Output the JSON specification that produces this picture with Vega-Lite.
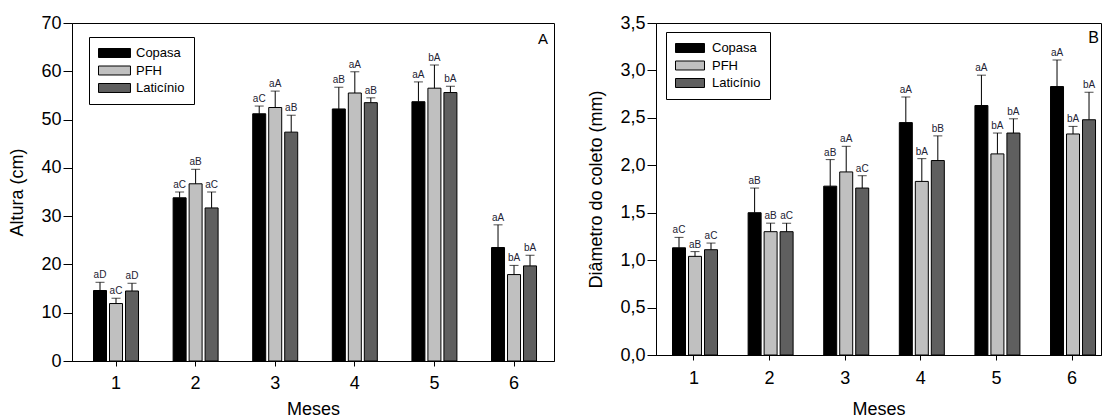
{
  "$schema": "https://vega.github.io/schema/vega-lite/v6.json",
  "padding": {"left": 8, "top": 13, "right": 0, "bottom": 0},
  "spacing": 102,
  "bounds": "flush",
  "background": "white",
  "resolve": {"scale": {"fill": "independent"}, "legend": {"fill": "independent"}},
  "config": {
    "view": {"stroke": "black", "strokeWidth": 1},
    "font": "Liberation Sans",
    "axis": {
      "grid": false,
      "domainColor": "black",
      "tickColor": "black",
      "labelColor": "black",
      "titleColor": "black",
      "labelFont": "Liberation Sans",
      "titleFont": "Liberation Sans",
      "labelFontSize": 18,
      "titleFontSize": 18,
      "titleFontWeight": "normal"
    }
  },
  "datasets": {
    "altura": [
      {"mes": "1", "trat": "Copasa", "valor": 14.6, "erro": 16.3, "letra": "aD"},
      {"mes": "1", "trat": "PFH", "valor": 11.9, "erro": 13.0, "letra": "aC"},
      {"mes": "1", "trat": "Laticínio", "valor": 14.5, "erro": 16.1, "letra": "aD"},
      {"mes": "2", "trat": "Copasa", "valor": 33.8, "erro": 35.0, "letra": "aC"},
      {"mes": "2", "trat": "PFH", "valor": 36.7, "erro": 39.7, "letra": "aB"},
      {"mes": "2", "trat": "Laticínio", "valor": 31.7, "erro": 35.0, "letra": "aC"},
      {"mes": "3", "trat": "Copasa", "valor": 51.2, "erro": 52.8, "letra": "aC"},
      {"mes": "3", "trat": "PFH", "valor": 52.5, "erro": 55.9, "letra": "aA"},
      {"mes": "3", "trat": "Laticínio", "valor": 47.4, "erro": 50.9, "letra": "aB"},
      {"mes": "4", "trat": "Copasa", "valor": 52.2, "erro": 56.7, "letra": "aB"},
      {"mes": "4", "trat": "PFH", "valor": 55.5, "erro": 59.9, "letra": "aA"},
      {"mes": "4", "trat": "Laticínio", "valor": 53.5, "erro": 54.5, "letra": "aB"},
      {"mes": "5", "trat": "Copasa", "valor": 53.7, "erro": 57.8, "letra": "aA"},
      {"mes": "5", "trat": "PFH", "valor": 56.5, "erro": 61.3, "letra": "bA"},
      {"mes": "5", "trat": "Laticínio", "valor": 55.6, "erro": 56.9, "letra": "bA"},
      {"mes": "6", "trat": "Copasa", "valor": 23.5, "erro": 28.2, "letra": "aA"},
      {"mes": "6", "trat": "PFH", "valor": 17.9, "erro": 19.8, "letra": "bA"},
      {"mes": "6", "trat": "Laticínio", "valor": 19.7, "erro": 21.9, "letra": "bA"}
    ],
    "diametro": [
      {"mes": "1", "trat": "Copasa", "valor": 1.13, "erro": 1.24, "letra": "aC"},
      {"mes": "1", "trat": "PFH", "valor": 1.04, "erro": 1.09, "letra": "aB"},
      {"mes": "1", "trat": "Laticínio", "valor": 1.11, "erro": 1.18, "letra": "aC"},
      {"mes": "2", "trat": "Copasa", "valor": 1.50, "erro": 1.76, "letra": "aB"},
      {"mes": "2", "trat": "PFH", "valor": 1.30, "erro": 1.39, "letra": "aB"},
      {"mes": "2", "trat": "Laticínio", "valor": 1.30, "erro": 1.39, "letra": "aC"},
      {"mes": "3", "trat": "Copasa", "valor": 1.78, "erro": 2.06, "letra": "aB"},
      {"mes": "3", "trat": "PFH", "valor": 1.93, "erro": 2.20, "letra": "aA"},
      {"mes": "3", "trat": "Laticínio", "valor": 1.76, "erro": 1.89, "letra": "aC"},
      {"mes": "4", "trat": "Copasa", "valor": 2.45, "erro": 2.72, "letra": "aA"},
      {"mes": "4", "trat": "PFH", "valor": 1.83, "erro": 2.07, "letra": "bA"},
      {"mes": "4", "trat": "Laticínio", "valor": 2.05, "erro": 2.31, "letra": "bB"},
      {"mes": "5", "trat": "Copasa", "valor": 2.63, "erro": 2.95, "letra": "aA"},
      {"mes": "5", "trat": "PFH", "valor": 2.12, "erro": 2.34, "letra": "bA"},
      {"mes": "5", "trat": "Laticínio", "valor": 2.34, "erro": 2.49, "letra": "bA"},
      {"mes": "6", "trat": "Copasa", "valor": 2.83, "erro": 3.11, "letra": "aA"},
      {"mes": "6", "trat": "PFH", "valor": 2.33, "erro": 2.41, "letra": "bA"},
      {"mes": "6", "trat": "Laticínio", "valor": 2.48, "erro": 2.77, "letra": "bA"}
    ]
  },
  "hconcat": [
    {
      "width": 482,
      "height": 338,
      "layer": [
        {
          "data": {"name": "altura"},
          "encoding": {
            "x": {
              "field": "mes", "type": "ordinal",
              "scale": {"paddingInner": 0.397, "paddingOuter": 0.226, "align": 0.556},
              "axis": {"title": "Meses", "labelAngle": 0, "tickSize": 5, "labelPadding": 8, "titlePadding": 8}
            },
            "xOffset": {
              "field": "trat", "type": "nominal", "sort": ["Copasa", "PFH", "Laticínio"],
              "scale": {"paddingInner": 0.1875, "paddingOuter": 0.094}
            }
          },
          "layer": [
            {
              "mark": {"type": "bar", "stroke": "black", "strokeWidth": 1},
              "encoding": {
                "y": {"field": "valor", "type": "quantitative", "scale": {"domain": [0, 70], "nice": false},
                  "axis": {"title": "Altura (cm)", "values": [0, 10, 20, 30, 40, 50, 60, 70], "tickSize": 9, "labelPadding": 2, "titlePadding": 14}},
                "fill": {
                  "field": "trat", "type": "nominal", "sort": ["Copasa", "PFH", "Laticínio"],
                  "scale": {"domain": ["Copasa", "PFH", "Laticínio"], "range": ["#000000", "#c0c0c0", "#5f5f5f"]},
                  "legend": {"orient": "none", "legendX": 17, "legendY": 14, "title": null, "strokeColor": "black", "fillColor": "white", "padding": 9, "labelFontSize": 13, "labelFont": "Liberation Sans", "labelColor": "black", "symbolType": "M-1,-0.69H3.92V0.69H-1Z", "symbolSize": 169, "symbolStrokeColor": "black", "symbolStrokeWidth": 1, "symbolOpacity": 1, "labelOffset": 24, "rowPadding": 3.5}
                }
              }
            },
            {
              "mark": {"type": "rule", "color": "black", "strokeWidth": 1},
              "encoding": {
                "y": {"field": "valor", "type": "quantitative"},
                "y2": {"field": "erro"}
              }
            },
            {
              "mark": {"type": "tick", "color": "black", "thickness": 1, "size": 9, "orient": "horizontal"},
              "encoding": {
                "y": {"field": "erro", "type": "quantitative"}
              }
            },
            {
              "mark": {"type": "text", "dy": -4, "baseline": "alphabetic", "fontSize": 10, "font": "Liberation Sans", "fill": "#222233"},
              "encoding": {
                "y": {"field": "erro", "type": "quantitative"},
                "text": {"field": "letra"}
              }
            }
          ]
        },
        {
          "data": {"values": [{"painel": "A"}]},
          "mark": {"type": "text", "align": "right", "baseline": "alphabetic", "fontSize": 15, "font": "Liberation Sans", "fill": "black", "dx": 34, "dy": 21},
          "encoding": {
            "x": {"datum": "6", "type": "ordinal"},
            "y": {"datum": 70, "type": "quantitative"},
            "text": {"field": "painel"}
          }
        }
      ]
    },
    {
      "width": 445,
      "height": 332,
      "layer": [
        {
          "data": {"name": "diametro"},
          "encoding": {
            "x": {
              "field": "mes", "type": "ordinal",
              "scale": {"paddingInner": 0.392, "paddingOuter": 0.139, "align": 0.714},
              "axis": {"title": "Meses", "labelAngle": 0, "tickSize": 5, "labelPadding": 9, "titlePadding": 13}
            },
            "xOffset": {
              "field": "trat", "type": "nominal", "sort": ["Copasa", "PFH", "Laticínio"],
              "scale": {"paddingInner": 0.2, "paddingOuter": 0.1}
            }
          },
          "layer": [
            {
              "mark": {"type": "bar", "stroke": "black", "strokeWidth": 1},
              "encoding": {
                "y": {"field": "valor", "type": "quantitative", "scale": {"domain": [0, 3.5], "nice": false},
                  "axis": {"title": "Diâmetro do coleto (mm)", "values": [0, 0.5, 1, 1.5, 2, 2.5, 3, 3.5], "labelExpr": "replace(format(datum.value, '.1f'), '.', ',')", "tickSize": 9, "labelPadding": 2, "titlePadding": 14}},
                "fill": {
                  "field": "trat", "type": "nominal", "sort": ["Copasa", "PFH", "Laticínio"],
                  "scale": {"domain": ["Copasa", "PFH", "Laticínio"], "range": ["#000000", "#c0c0c0", "#5f5f5f"]},
                  "legend": {"orient": "none", "legendX": 10, "legendY": 9, "title": null, "strokeColor": "black", "fillColor": "white", "padding": 9, "labelFontSize": 13, "labelFont": "Liberation Sans", "labelColor": "black", "symbolType": "M-1,-0.69H3.46V0.69H-1Z", "symbolSize": 169, "symbolStrokeColor": "black", "symbolStrokeWidth": 1, "symbolOpacity": 1, "labelOffset": 23, "rowPadding": 3.5}
                }
              }
            },
            {
              "mark": {"type": "rule", "color": "black", "strokeWidth": 1},
              "encoding": {
                "y": {"field": "valor", "type": "quantitative"},
                "y2": {"field": "erro"}
              }
            },
            {
              "mark": {"type": "tick", "color": "black", "thickness": 1, "size": 9, "orient": "horizontal"},
              "encoding": {
                "y": {"field": "erro", "type": "quantitative"}
              }
            },
            {
              "mark": {"type": "text", "dy": -4, "baseline": "alphabetic", "fontSize": 10, "font": "Liberation Sans", "fill": "#222233"},
              "encoding": {
                "y": {"field": "erro", "type": "quantitative"},
                "text": {"field": "letra"}
              }
            }
          ]
        },
        {
          "data": {"values": [{"painel": "B"}]},
          "mark": {"type": "text", "align": "right", "baseline": "alphabetic", "fontSize": 16, "font": "Liberation Sans", "fill": "black", "dx": 27, "dy": 20},
          "encoding": {
            "x": {"datum": "6", "type": "ordinal"},
            "y": {"datum": 3.5, "type": "quantitative"},
            "text": {"field": "painel"}
          }
        }
      ]
    }
  ]
}
